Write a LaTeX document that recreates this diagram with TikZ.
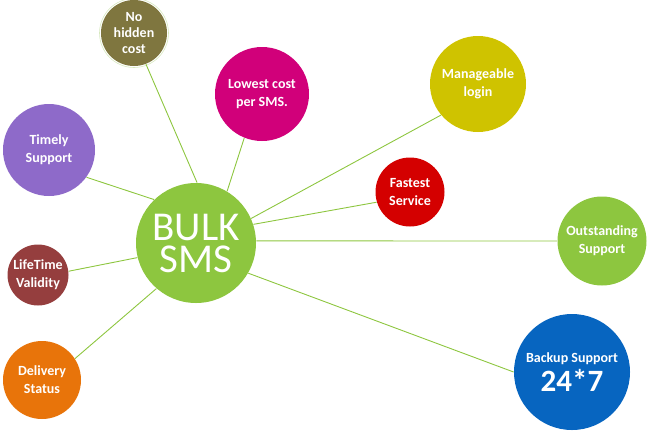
\documentclass[tikz,border=0pt]{standalone}
\usepackage{fontspec}
\setmainfont{Carlito}
\usepackage{tikz}
\usetikzlibrary{positioning}
\definecolor{smsgreen}{RGB}{141,198,63}
\definecolor{olivebox}{RGB}{127,118,63}
\definecolor{magentabox}{RGB}{209,0,122}
\definecolor{yellowbox}{RGB}{207,195,0}
\definecolor{purplebox}{RGB}{142,106,201}
\definecolor{redbox}{RGB}{212,0,0}
\definecolor{brownbox}{RGB}{149,62,62}
\definecolor{orangebox}{RGB}{232,116,10}
\definecolor{bluebox}{RGB}{7,101,192}
\definecolor{ringgreen}{RGB}{214,232,190}

\begin{document}
\begin{tikzpicture}[x=1pt, y=-1pt, line width=.8pt,
	dot/.style={circle, inner sep=0pt, text=white, align=center, font=\bfseries\fontsize{14}{18}\selectfont},
	spoke/.style={draw=smsgreen, line width=.9pt}]
	\useasboundingbox (0,0) rectangle (650,432);

		\node[dot, fill=smsgreen, minimum size=120pt, font=\fontsize{41}{32}\selectfont] (A) at (196,243) {BULK\\SMS};
		\node[dot, fill=olivebox, minimum size=66pt, font=\bfseries\fontsize{14}{16}\selectfont] (B1) at (134,33) {No\\hidden\\cost};
		\node[dot, fill=magentabox, minimum size=94pt] (B2) at (262,94) {Lowest cost\\per SMS.};
		\node[dot, fill=yellowbox, minimum size=96pt] (B3) at (478,84) {Manageable\\login};
		\node[dot, fill=purplebox, minimum size=92pt] (B4) at (49,150) {Timely\\Support};
		\node[dot, fill=redbox, minimum size=69pt] (B5) at (410,192) {Fastest\\Service};
		\node[dot, fill=smsgreen, minimum size=89pt] (B6) at (602,241) {Outstanding\\Support};
		\node[dot, fill=brownbox, minimum size=61pt] (B7) at (38,275) {LifeTime\\Validity};
		\node[dot, fill=orangebox, minimum size=78pt] (B8) at (42,380) {Delivery\\Status};
		\node[dot, fill=bluebox, minimum size=116pt] (B9) at (572,372) {Backup Support\\[4pt]{\fontsize{31}{30}\selectfont 24*7}};
		\draw [ringgreen, line width=.6pt] (B1.center) circle (34.5pt);
		\draw [spoke] (A.89)--(B1.291);
		\draw [spoke] (A.59)--(B2.248);
		\draw [spoke] (A.24)--(B3.220);
		\draw [spoke] (A.134)--(B4.324);
		\draw [spoke] (A.18)--(B5.197);
		\draw [spoke] (A.2)--(B6.180);
		\draw [spoke] (A.194)--(B7.7);
		\draw [spoke] (A.229)--(B8.33);
		\draw [spoke] (A.330)--(B9.180);

\end{tikzpicture}
\end{document}
